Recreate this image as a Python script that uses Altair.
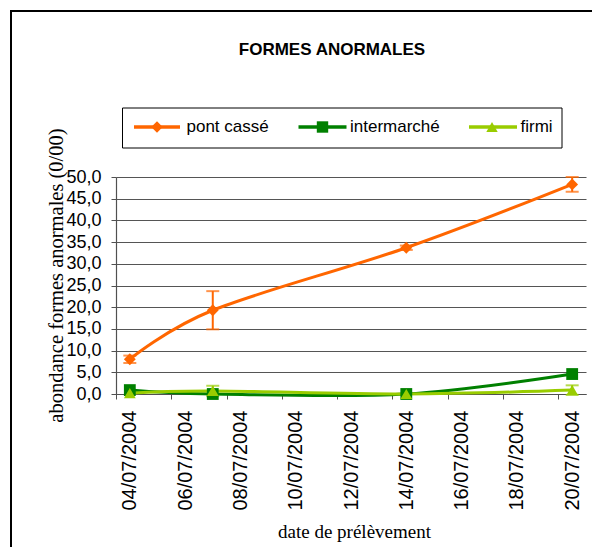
import altair as alt
import pandas as pd

# ---------------- data ----------------
TITLE = "FORMES ANORMALES"
Y_TITLE = "abondance formes anormales (0/00)"
X_TITLE = "date de prélèvement"

series = ["pont cassé", "intermarché", "firmi"]
colors = ["#FF6600", "#008000", "#99CC00"]
shapes = ["diamond", "square", "triangle-up"]

dates = ["2004-07-04", "2004-07-07", "2004-07-14", "2004-07-20"]
start_date = "2004-07-04"

pont_casse = [8.0, 19.3, 33.7, 48.3]
pont_casse_err = [0.85, 4.4, 0.5, 1.7]
intermarche = [0.9, 0.0, 0.0, 4.6]
intermarche_err = [0.0, 0.0, 0.0, 0.0]
firmi = [0.2, 0.7, 0.0, 0.9]
firmi_err = [0.0, 1.2, 0.0, 1.1]

y_ticks = [0, 5, 10, 15, 20, 25, 30, 35, 40, 45, 50]
x_label_days = [0, 2, 4, 6, 8, 10, 12, 14, 16]

rows = []
for name, vals, errs in [("pont cassé", pont_casse, pont_casse_err),
                         ("intermarché", intermarche, intermarche_err),
                         ("firmi", firmi, firmi_err)]:
    for d, v, e in zip(dates, vals, errs):
        rows.append({"date": d, "series": name, "value": v, "err": e})
df = pd.DataFrame(rows)
df["day"] = (pd.to_datetime(df["date"]) - pd.Timestamp(start_date)).dt.days
df["order"] = df["series"].map({s: i for i, s in enumerate(series)})

# ---------------- layout ----------------
W, H = 470, 217
half_day = W / 34.0

color_scale = alt.Scale(domain=series, range=colors)
shape_scale = alt.Scale(domain=series, range=shapes)
x_scale = alt.Scale(domain=[-0.5, 16.5], nice=False, zero=False)
y_scale = alt.Scale(domain=[0, 50], nice=False, zero=False)

x_axis = alt.Axis(
    values=x_label_days,
    labelExpr="timeFormat(datetime(2004, 6, 4 + datum.value), '%d/%m/%Y')",
    labelAngle=-90, labelFont="Liberation Sans", labelFontSize=20,
    labelColor="black", labelPadding=11, labelFlush=False, labelOverlap=False,
    tickOffset=-half_day, labelOffset=half_day,
    tickSize=5, tickColor="#505050", domainColor="#505050", domainWidth=1.2,
    grid=False,
    title=X_TITLE, titleFont="Liberation Serif", titleFontSize=19,
    titleFontWeight="normal", titleColor="black",
    titleX=238, titleY=143, titleBaseline="alphabetic", titleAlign="center",
)

y_axis = alt.Axis(
    values=y_ticks, tickCount=11,
    labelExpr="replace(format(datum.value, '.1f'), '.', ',')",
    labelFont="Liberation Sans", labelFontSize=18, labelColor="black",
    labelPadding=10, labelOverlap=False, labelFlush=False,
    tickSize=5, tickColor="#505050", domainColor="#505050", domainWidth=1.2,
    grid=True, gridColor="#555555", gridWidth=1.2,
    title=Y_TITLE, titleFont="Liberation Serif", titleFontSize=20.5,
    titleFontWeight="normal", titleColor="black",
    titleX=-54, titleY=98, titleAngle=-90, titleBaseline="alphabetic",
    titleAlign="center",
)


def X(field):
    return alt.X(field, scale=x_scale, axis=x_axis)


def Y(field):
    return alt.Y(field, scale=y_scale, axis=y_axis)


col_enc = alt.Color("series:N", scale=color_scale, legend=None)

base = alt.Chart(df)

lines = base.mark_line(interpolate="cardinal", strokeWidth=3).encode(
    x=X("day:Q"), y=Y("value:Q"),
    color=col_enc,
    detail="series:N",
    order="day:Q",
)

err_df = base.transform_filter("datum.err > 0").transform_calculate(
    lo="datum.value - datum.err", hi="datum.value + datum.err"
)

err_rules = err_df.mark_rule(strokeWidth=2).encode(
    x=X("day:Q"), y=Y("lo:Q"), y2="hi:Q", color=col_enc,
)
cap_lo = err_df.mark_tick(orient="horizontal", size=13, thickness=2).encode(
    x=X("day:Q"), y=Y("lo:Q"), color=col_enc,
)
cap_hi = err_df.mark_tick(orient="horizontal", size=13, thickness=2).encode(
    x=X("day:Q"), y=Y("hi:Q"), color=col_enc,
)

points = base.mark_point(filled=True, size=140, opacity=1).encode(
    x=X("day:Q"), y=Y("value:Q"),
    color=col_enc,
    shape=alt.Shape("series:N", scale=shape_scale, legend=None),
    order="order:Q",
)

# ---------------- decorations ----------------
one = pd.DataFrame({"t": [TITLE]})

title = alt.Chart(one).mark_text(
    font="Liberation Sans", fontSize=17, fontWeight="bold", color="black",
    align="center", baseline="middle",
).encode(x=alt.value(216), y=alt.value(-127), text="t:N")

frame_left = alt.Chart(one).mark_rule(color="black", strokeWidth=2).encode(
    x=alt.value(-105), y=alt.value(-166), y2=alt.value(380))
frame_top = alt.Chart(one).mark_rule(color="black", strokeWidth=2).encode(
    x=alt.value(-106), x2=alt.value(490), y=alt.value(-166))

legend_box = alt.Chart(one).mark_rect(fill="white", stroke="black", strokeWidth=1).encode(
    x=alt.value(6.5), x2=alt.value(446), y=alt.value(-69), y2=alt.value(-29))

LY = -50
legend_pos = [(18, 64, 41, 70.5), (182.5, 230.5, 206.5, 234), (353, 401, 376, 404.5)]
legend_layers = [legend_box]
for name, col, shp, (x0, x1, xm, xt) in zip(series, colors, shapes, legend_pos):
    d = pd.DataFrame({"t": [name]})
    legend_layers.append(alt.Chart(d).mark_rule(color=col, strokeWidth=3.5).encode(
        x=alt.value(x0), x2=alt.value(x1), y=alt.value(LY)))
    legend_layers.append(alt.Chart(d).mark_point(shape=shp, filled=True, size=130,
                                                 color=col, opacity=1).encode(
        x=alt.value(xm), y=alt.value(LY)))
    legend_layers.append(alt.Chart(d).mark_text(
        font="Liberation Sans", fontSize=17, color="black", align="left",
        baseline="middle").encode(x=alt.value(xt), y=alt.value(LY), text="t:N"))

chart = alt.layer(
    lines, err_rules, cap_lo, cap_hi, points,
    title, frame_left, frame_top, *legend_layers,
).properties(
    width=W, height=H,
    autosize=alt.AutoSizeParams(type="none"),
    padding={"left": 108, "top": 169, "right": 6, "bottom": 153},
    background="white",
).configure_view(stroke=None)

chart.save("out.html", embed_options={"renderer": "svg", "actions": False})
